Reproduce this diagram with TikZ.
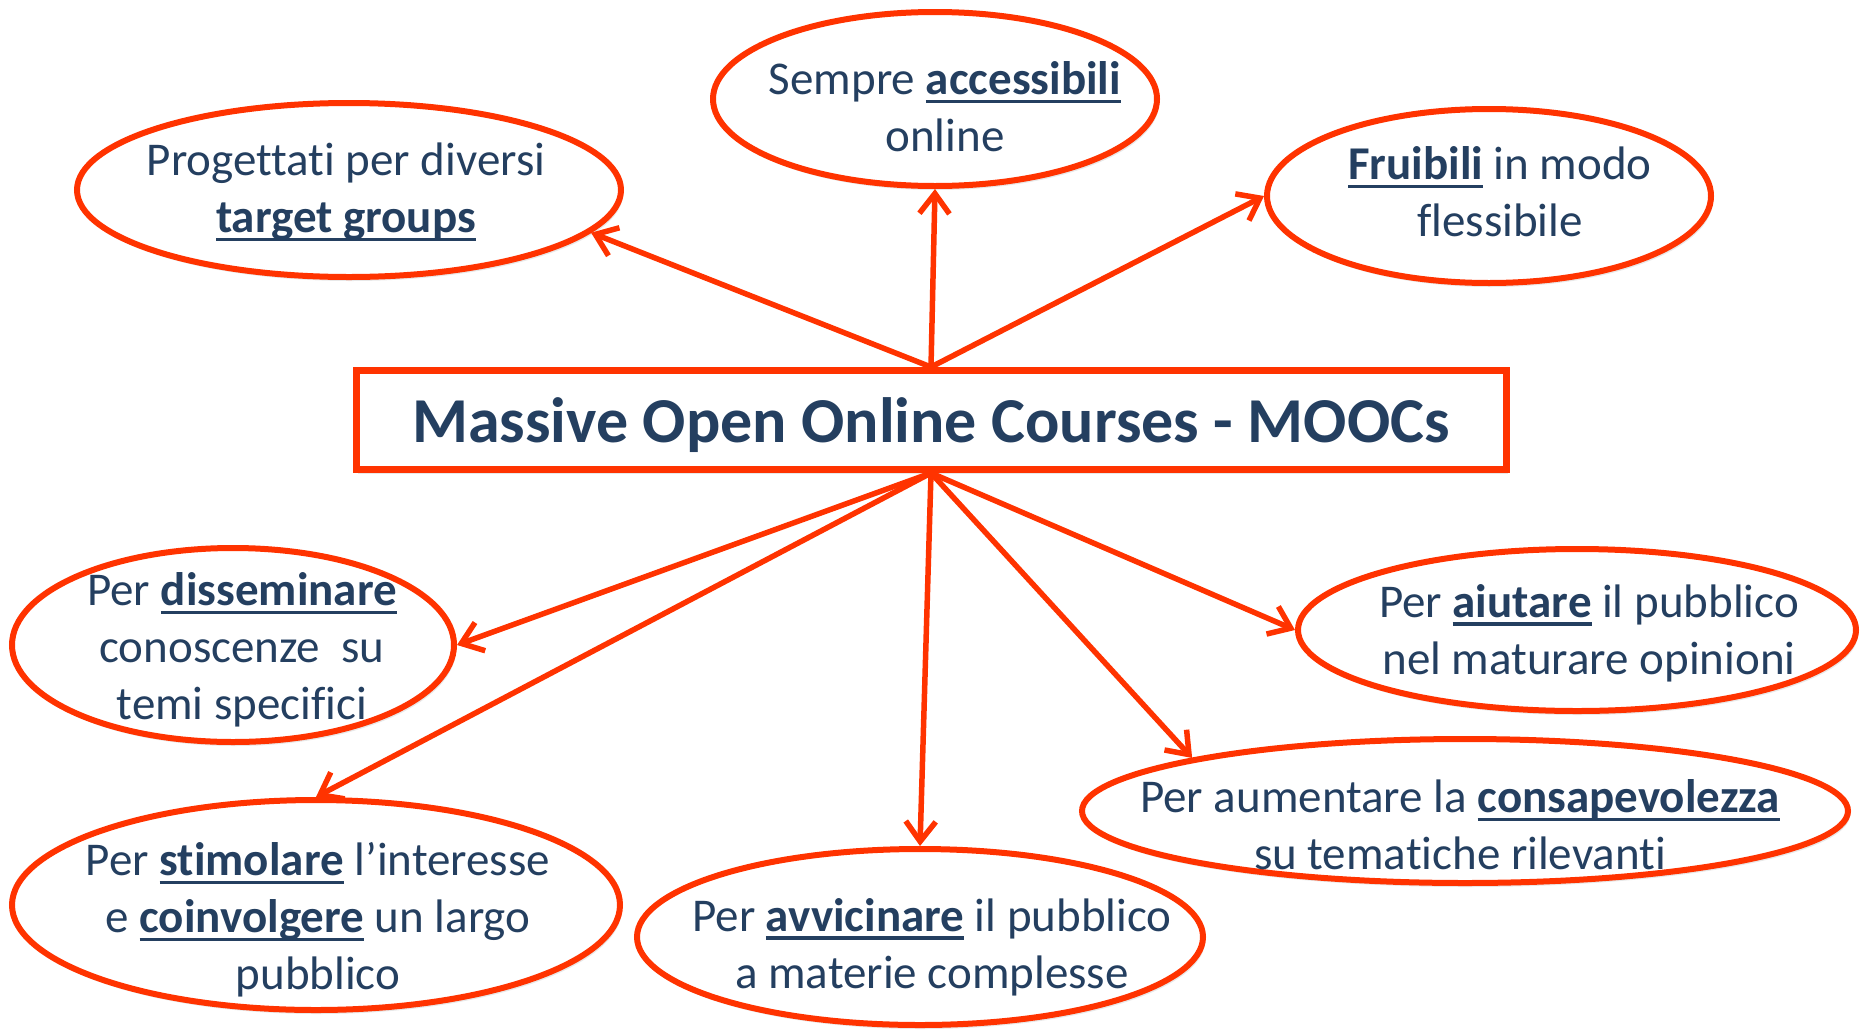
\documentclass[tikz,border=0pt]{standalone}
\usepackage{fontspec}
\setmainfont{Carlito}[Ligatures=CommonOff]
\usetikzlibrary{arrows.meta,shapes.geometric,shadows}

\definecolor{moocred}{RGB}{255,51,0}
\definecolor{moocblue}{RGB}{36,63,96}

% bold keyword with a low underline
\newsavebox\kwbox
\newcommand\kw[1]{\sbox\kwbox{\bfseries #1}\rlap{\rule[-0.18em]{\wd\kwbox}{0.07em}}\usebox\kwbox}

\begin{document}
\begin{tikzpicture}[x=1pt, y=-1pt,
    bubble/.style={ellipse, draw=moocred, line width=6pt, fill=white, inner sep=0pt,
        drop shadow={shadow xshift=2pt, shadow yshift=-4pt, opacity=.18}},
    txt/.style={text=moocblue, align=center, font=\fontsize{47}{57}\selectfont},
    link/.style={draw=moocred, line width=5.5pt, line cap=round,
        -{Straight Barb[length=20pt, width=30pt, line width=5.5pt]}}]
    \useasboundingbox (0,0) rectangle (1860,1031);

    % central box
    \node[draw=moocred, line width=7pt, fill=white, minimum width=1150pt, minimum height=99pt,
        text=moocblue, text depth=0pt, font=\fontsize{64}{70}\selectfont\bfseries,
        drop shadow={shadow xshift=2pt, shadow yshift=-4pt, opacity=.18}]
        (mooc) at (931,420) {Massive Open Online Courses - MOOCs};

    % bubbles
    \node[bubble, minimum width=544pt, minimum height=174pt] (target) at (349,190) {};
    \node[bubble, minimum width=444pt, minimum height=174pt] (access) at (935,99) {};
    \node[bubble, minimum width=444pt, minimum height=174pt] (fruib) at (1489,196) {};
    \node[bubble, minimum width=442pt, minimum height=194pt] (dissem) at (233,645) {};
    \node[bubble, minimum width=608pt, minimum height=210pt] (stimol) at (316,905) {};
    \node[bubble, minimum width=566pt, minimum height=176pt] (avvic) at (920,937) {};
    \node[bubble, minimum width=766pt, minimum height=144pt] (consap) at (1465,811) {};
    \node[bubble, minimum width=558pt, minimum height=162pt] (aiut) at (1577,630) {};

    % texts
    \node[txt] (targett) at (346,192) {Progettati per diversi\\\kw{target groups}};
    \node[txt] (accesst) at (945,107) {Sempre \kw{accessibili}\\online};
    \node[txt] (fruibt) at (1500,192) {\kw{Fruibili} in modo\\flessibile};
    \node[txt] (dissemt) at (242,650) {Per \kw{disseminare}\\conoscenze~ su\\temi specifici};
    \node[txt] (stimolt) at (318,920) {Per \kw{stimolare} l’interesse\\e \kw{coinvolgere} un largo\\pubblico};
    \node[txt] (avvict) at (932,947) {Per \kw{avvicinare} il pubblico\\a materie complesse};
    \node[txt] (consapt) at (1460,825) {Per aumentare la \kw{consapevolezza}\\su tematiche rilevanti};
    \node[txt] (aiutt) at (1589,633) {Per \kw{aiutare} il pubblico\\nel maturare opinioni};

    % arrows
    \draw[link] (mooc.north) -- (target.-10);
    \draw[link] (mooc.north) -- (access.south);
    \draw[link] (mooc.north) -- (fruib.west);
    \draw[link] (mooc.south) -- (dissem.east);
    \draw[link] (mooc.south) -- (stimol.north);
    \draw[link] (mooc.south) -- (avvic.north);
    \draw[link] (mooc.south) -- (consap.169);
    \draw[link] (mooc.south) -- (aiut.west);
\end{tikzpicture}
\end{document}
